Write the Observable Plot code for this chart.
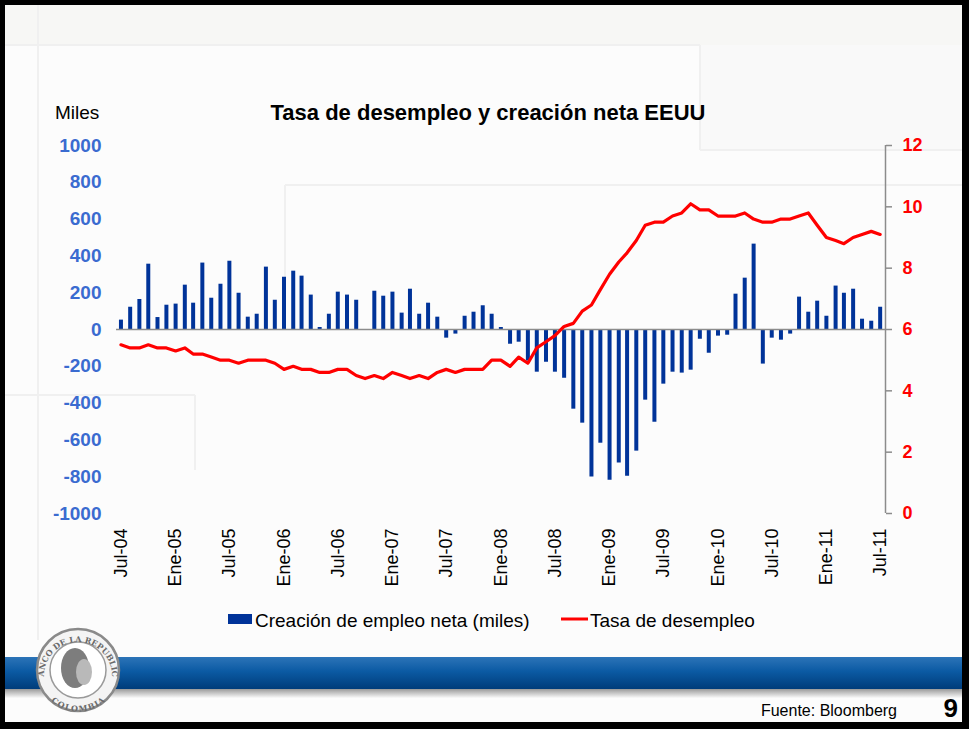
<!DOCTYPE html>
<html><head><meta charset="utf-8">
<script src="https://cdn.jsdelivr.net/npm/d3@7"></script>
<script src="https://cdn.jsdelivr.net/npm/@observablehq/plot@0.6"></script>
<style>
html,body{margin:0;padding:0;background:#000;}
#page{position:relative;width:969px;height:729px;overflow:hidden;font-family:"Liberation Sans",Arial,sans-serif;}
#deco,#txt{position:absolute;left:0;top:0;}
#chart{position:absolute;left:0;top:130px;}
</style></head><body>
<div id="page"><svg id="deco" width="969" height="729"></svg><div id="chart"></div><svg id="txt" width="969" height="729"></svg></div>
<script>
// ---- data ----
const startYear = 2004, startMonth = 6; // Jul-04, monthly
const empleo = [
  51, 121, 163, 355, 65, 132,
  138, 241, 143, 361, 170, 246, 371, 197, 67, 83, 339, 159,
  284, 317, 290, 187, 11, 83, 203, 187, 159, -3, 208, 181,
  203, 89, 219, 83, 143, 67, -47, -25, 72, 94, 129, 83,
  11, -80, -69, -172, -232, -178, -232, -265, -433, -509, -802, -618,
  -819, -726, -797, -661, -384, -504, -297, -232, -237, -221, -53, -129,
  -36, -31, 192, 279, 464, -188, -47, -58, -25, 176, 94, 154,
  72, 236, 197, 219, 56, 45, 121
];
const desempleo = [
  5.5, 5.4, 5.4, 5.5, 5.4, 5.4,
  5.3, 5.4, 5.2, 5.2, 5.1, 5.0, 5.0, 4.9, 5.0, 5.0, 5.0, 4.9,
  4.7, 4.8, 4.7, 4.7, 4.6, 4.6, 4.7, 4.7, 4.5, 4.4, 4.5, 4.4,
  4.6, 4.5, 4.4, 4.5, 4.4, 4.6, 4.7, 4.6, 4.7, 4.7, 4.7, 5.0,
  5.0, 4.8, 5.1, 4.9, 5.4, 5.6, 5.8, 6.1, 6.2, 6.6, 6.8, 7.3,
  7.8, 8.2, 8.5, 8.9, 9.4, 9.5, 9.5, 9.7, 9.8, 10.1, 9.9, 9.9,
  9.7, 9.7, 9.7, 9.8, 9.6, 9.5, 9.5, 9.6, 9.6, 9.7, 9.8, 9.4,
  9.0, 8.9, 8.8, 9.0, 9.1, 9.2, 9.1
];
const xTickLabels = ["Jul-04","Ene-05","Jul-05","Ene-06","Jul-06","Ene-07","Jul-07","Ene-08","Jul-08","Ene-09","Jul-09","Ene-10","Jul-10","Ene-11","Jul-11"];
const leftTicks = [1000, 800, 600, 400, 200, 0, -200, -400, -600, -800, -1000];
const rightTicks = [0, 2, 4, 6, 8, 10, 12];
const seriesNames = ["Creación de empleo neta (miles)", "Tasa de desempleo"];
const titulo = "Tasa de desempleo y creación neta EEUU";

// ---- build ----
const monthIdx = {Ene: 0, Jul: 6};
const tickDates = xTickLabels.map(l => new Date(Date.UTC(2000 + +l.slice(4), monthIdx[l.slice(0,3)], 1)));
const labelByTime = new Map(tickDates.map((d, i) => [+d, xTickLabels[i]]));
const data = empleo.map((v, i) => ({date: new Date(Date.UTC(startYear, startMonth + i, 1)), jobs: v, rate: desempleo[i]}));
const toLeft = u => (u - 6) * 1000 / 6;
const fromLeft = v => v * 6 / 1000 + 6;
const xStart = new Date(Date.UTC(2004, 5, 16));
const xEnd = new Date(Date.UTC(2011, 6, 19));
const FONT = '"Liberation Sans", Arial, sans-serif';

const chart = Plot.plot({
  width: 969, height: 480,
  marginLeft: 116, marginRight: 84, marginTop: 15, marginBottom: 97,
  style: {background: "transparent", fontFamily: FONT, overflow: "visible"},
  x: {type: "utc", domain: [xStart, xEnd]},
  y: {domain: [-1000, 1000]},
  marks: [
    Plot.axisX({ticks: tickDates, tickFormat: d => labelByTime.get(+d), tickRotate: -90, tickSize: 0, tickPadding: 15, fontSize: 18, fill: "#000", label: null}),
    Plot.axisY({anchor: "left", ticks: leftTicks, tickFormat: d => String(d), tickSize: 0, tickPadding: 15, fontSize: 19, fontWeight: "bold", fill: "#3a6bd0", label: null}),
    Plot.axisY({anchor: "right", ticks: rightTicks.map(toLeft), tickFormat: v => String(Math.round(fromLeft(v))), tickSize: 6, tickPadding: 11, stroke: "#8c8c8c", strokeWidth: 1.5, fill: "#ff0000", fontSize: 18, fontWeight: "bold", label: null}),
    Plot.ruleX(data, {x: "date", y1: 0, y2: "jobs", stroke: "#003399", strokeWidth: 4}),
    Plot.ruleY([0], {stroke: "#8c8c8c", strokeWidth: 1.5}),
    Plot.ruleX([xEnd], {stroke: "#8c8c8c", strokeWidth: 1.5}),
    Plot.line(data, {x: "date", y: d => toLeft(d.rate), stroke: "#ff0000", strokeWidth: 3.2})
  ]
});
document.getElementById("chart").appendChild(chart);
d3.select(chart).selectAll('g[aria-label="y-axis tick label"]').attr("font-weight", "bold");

// ---- decoration ----
const deco = d3.select("#deco");
const defs = deco.append("defs");
const g1 = defs.append("linearGradient").attr("id", "band").attr("x1", 0).attr("y1", 0).attr("x2", 0).attr("y2", 1);
g1.append("stop").attr("offset", "0%").attr("stop-color", "#2c74b8");
g1.append("stop").attr("offset", "45%").attr("stop-color", "#0b5aa3");
g1.append("stop").attr("offset", "100%").attr("stop-color", "#003c7a");
const g2 = defs.append("linearGradient").attr("id", "shadow").attr("x1", 0).attr("y1", 0).attr("x2", 0).attr("y2", 1);
g2.append("stop").attr("offset", "0%").attr("stop-color", "#9a9a9a");
g2.append("stop").attr("offset", "100%").attr("stop-color", "#fafafa");
deco.append("rect").attr("width", 969).attr("height", 729).attr("fill", "#000");
deco.append("rect").attr("x", 5).attr("y", 5).attr("width", 957).attr("height", 717).attr("fill", "#fcfcfc");
deco.append("rect").attr("x", 5).attr("y", 5).attr("width", 957).attr("height", 40).attr("fill", "#f7f7f5");
deco.append("rect").attr("x", 700).attr("y", 45).attr("width", 262).attr("height", 105).attr("fill", "#f9f9f9");
const faint = "#f0f0f0";
[[38,5,38,640],[5,45,700,45],[700,45,700,150],[700,150,962,150],[285,185,962,185],[285,185,285,330],[5,395,195,395],[195,395,195,470]].forEach(([a,b,c,d]) =>
  deco.append("line").attr("x1", a).attr("y1", b).attr("x2", c).attr("y2", d).attr("stroke", faint).attr("stroke-width", 2));
deco.append("rect").attr("x", 5).attr("y", 689).attr("width", 957).attr("height", 9).attr("fill", "url(#shadow)");
deco.append("rect").attr("x", 5).attr("y", 657).attr("width", 957).attr("height", 32).attr("fill", "url(#band)");
// logo
const lg = deco.append("g").attr("transform", "translate(78,670)");
lg.append("circle").attr("r", 41).attr("fill", "#f4f4f4").attr("stroke", "#8a8a8a").attr("stroke-width", 2.5);
lg.append("circle").attr("r", 28).attr("fill", "#fff").attr("stroke", "#9a9a9a").attr("stroke-width", 1.5);
lg.append("ellipse").attr("cx", -3).attr("cy", -2).attr("rx", 14).attr("ry", 20).attr("fill", "#7d7d7d");
lg.append("ellipse").attr("cx", 6).attr("cy", 2).attr("rx", 8).attr("ry", 13).attr("fill", "#b9b9b9");
defs.append("path").attr("id", "arcTop").attr("d", "M -34 6 A 34 34 0 0 1 34 6").attr("transform", "translate(78,670)");
defs.append("path").attr("id", "arcBot").attr("d", "M -26 24 A 35 35 0 0 0 26 24").attr("transform", "translate(78,670)");
deco.append("text").attr("font-size", 8).attr("font-weight", "bold").attr("fill", "#6a6a6a").attr("font-family", "DejaVu Serif, serif")
  .append("textPath").attr("href", "#arcTop").attr("startOffset", "50%").attr("text-anchor", "middle").text("BANCO DE LA REPUBLICA");
deco.append("text").attr("font-size", 8).attr("font-weight", "bold").attr("fill", "#6a6a6a").attr("font-family", "DejaVu Serif, serif").attr("dy", 6)
  .append("textPath").attr("href", "#arcBot").attr("startOffset", "50%").attr("text-anchor", "middle").text("COLOMBIA");

// ---- texts ----
const txt = d3.select("#txt").style("font-family", FONT);
txt.append("text").attr("x", 55).attr("y", 119).attr("font-size", 19).text("Miles");
txt.append("text").attr("x", 488).attr("y", 120).attr("text-anchor", "middle").attr("font-size", 22).attr("font-weight", "bold").text(titulo);
txt.append("rect").attr("x", 228).attr("y", 614).attr("width", 24).attr("height", 10).attr("fill", "#003399");
txt.append("text").attr("x", 255).attr("y", 627).attr("font-size", 19).text(seriesNames[0]);
txt.append("rect").attr("x", 561).attr("y", 617.5).attr("width", 27).attr("height", 3).attr("fill", "#ff0000");
txt.append("text").attr("x", 590).attr("y", 627).attr("font-size", 19).text(seriesNames[1]);
txt.append("text").attr("x", 897).attr("y", 716).attr("text-anchor", "end").attr("font-size", 16).text("Fuente: Bloomberg");
txt.append("text").attr("x", 958).attr("y", 717).attr("text-anchor", "end").attr("font-size", 26).attr("font-weight", "bold").text("9");
</script>
</body></html>
